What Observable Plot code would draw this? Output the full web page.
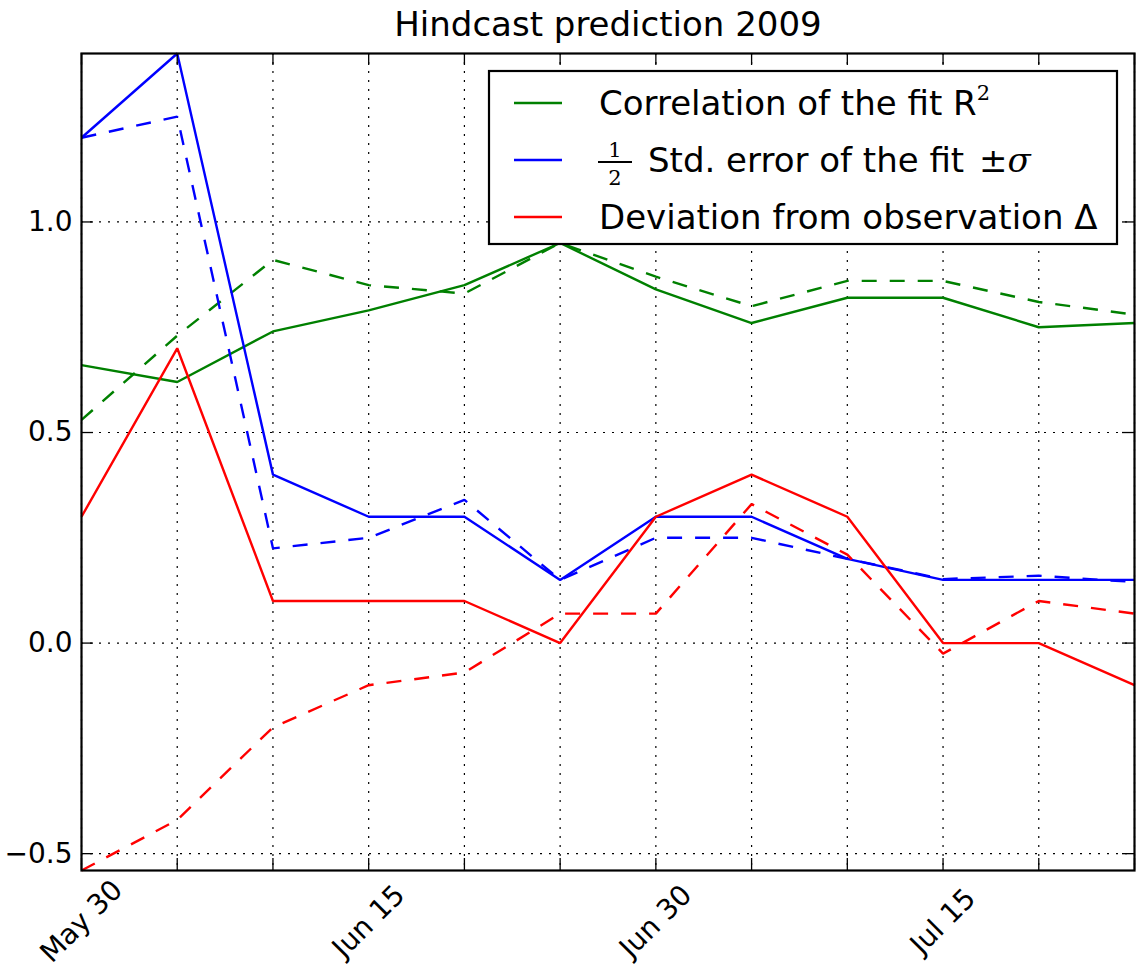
<!DOCTYPE html>
<html>
<head>
<meta charset="utf-8">
<script src="https://cdn.jsdelivr.net/npm/d3@7"></script>
<script src="https://cdn.jsdelivr.net/npm/@observablehq/plot@0.6"></script>
<style>
  html, body { margin: 0; padding: 0; background: #fff; }
  #chart svg { display: block; }
</style>
</head>
<body>
<div id="chart"></div>
<script>
// ---- data ----
const steps = [0, 1, 2, 3, 4, 5, 6, 7, 8, 9, 10, 11];
const tickIdx = [0, 3, 6, 9];
const tickLabels = ["May 30", "Jun 15", "Jun 30", "Jul 15"];
const yTicks = [-0.5, 0.0, 0.5, 1.0];
const yTickLabels = ["\u22120.5", "0.0", "0.5", "1.0"];

const r2Fit      = [0.66, 0.62, 0.74, 0.79, 0.85, 0.95, 0.84, 0.76, 0.82, 0.82, 0.75, 0.76];
const r2Hind     = [0.53, 0.73, 0.91, 0.85, 0.83, 0.95, 0.87, 0.80, 0.86, 0.86, 0.81, 0.78];
const sigmaFit   = [1.20, 1.40, 0.40, 0.30, 0.30, 0.15, 0.30, 0.30, 0.20, 0.15, 0.15, 0.15];
const sigmaHind  = [1.20, 1.25, 0.225, 0.25, 0.34, 0.15, 0.25, 0.25, 0.20, 0.152, 0.16, 0.145];
const deltaFit   = [0.30, 0.70, 0.10, 0.10, 0.10, 0.00, 0.30, 0.40, 0.30, 0.00, 0.00, -0.10];
const deltaHind  = [-0.54, -0.42, -0.20, -0.10, -0.07, 0.07, 0.07, 0.33, 0.21, -0.025, 0.10, 0.07];

const GREEN = "#008000", BLUE = "#0000ff", RED = "#ff0000";
const FONT = "DejaVu Sans";

const W = 1136, H = 969;
const mL = 81, mR = 2, mT = 53, mB = 99;
const fw = W - mL - mR, fh = H - mT - mB;
const tickLen = 12;
const LW = 2.4;

function series(vals, color, dashed) {
  return Plot.line(vals, {
    x: (d, i) => steps[i], y: d => d,
    stroke: color, strokeWidth: LW,
    strokeDasharray: dashed ? "15,13" : null,
    strokeLinejoin: "miter", strokeLinecap: "butt"
  });
}

const svg = Plot.plot({
  width: W, height: H,
  marginLeft: mL, marginRight: mR, marginTop: mT, marginBottom: mB,
  style: { fontFamily: FONT, background: "#fff", overflow: "visible" },
  x: { domain: [0, 11], axis: null },
  y: { domain: [-0.54, 1.4], axis: null },
  marks: [
    Plot.ruleX(steps, { x: d => d, stroke: "black", strokeWidth: 1.2, strokeDasharray: "2,7" }),
    Plot.ruleY(yTicks, { y: d => d, stroke: "black", strokeWidth: 1.2, strokeDasharray: "2,7" }),
    series(r2Fit, GREEN, false),
    series(r2Hind, GREEN, true),
    series(sigmaFit, BLUE, false),
    series(sigmaHind, BLUE, true),
    series(deltaFit, RED, false),
    series(deltaHind, RED, true),
    Plot.frame({ stroke: "black", strokeWidth: 2.2 }),
    // inward ticks, all four sides
    Plot.ruleX(steps, { x: d => d, stroke: "black", strokeWidth: 1.3, insetTop: fh - tickLen }),
    Plot.ruleX(steps, { x: d => d, stroke: "black", strokeWidth: 1.3, insetBottom: fh - tickLen }),
    Plot.ruleY(yTicks, { y: d => d, stroke: "black", strokeWidth: 1.3, insetRight: fw - tickLen }),
    Plot.ruleY(yTicks, { y: d => d, stroke: "black", strokeWidth: 1.3, insetLeft: fw - tickLen }),
    // y tick labels
    Plot.text(yTicks, {
      y: d => d, frameAnchor: "left", dx: -9, textAnchor: "end",
      text: (d, i) => yTickLabels[i], fontSize: 28, fill: "black", lineAnchor: "middle"
    }),
    // x tick labels (rotated)
    Plot.text(tickIdx, {
      x: d => d, frameAnchor: "bottom", dy: 51, rotate: -45, textAnchor: "middle",
      text: (d, i) => tickLabels[i], fontSize: 28, fill: "black", lineAnchor: "middle"
    }),
    // title
    Plot.text(["Hindcast prediction 2009"], {
      frameAnchor: "top", dy: -28, text: d => d, fontSize: 34, fill: "black", lineAnchor: "middle"
    })
  ]
});

// ---- legend (decoration) ----
const g = d3.select(svg).append("g")
  .attr("font-family", FONT).attr("fill", "black").attr("text-anchor", "start");
g.append("rect").attr("x", 489).attr("y", 71).attr("width", 628).attr("height", 173)
  .attr("fill", "white").attr("stroke", "black").attr("stroke-width", 2.2);
const rowsY = [103, 160, 217];
const rowColors = [GREEN, BLUE, RED];
rowsY.forEach((y, i) => {
  g.append("line").attr("x1", 514).attr("x2", 562).attr("y1", y).attr("y2", y)
    .attr("stroke", rowColors[i]).attr("stroke-width", LW);
});
const fs = 34;
// row 1
const t1 = g.append("text").attr("x", 599).attr("y", rowsY[0] + 12).attr("font-size", fs);
t1.append("tspan").text("Correlation of the fit R");
t1.append("tspan").attr("font-family", "DejaVu Serif").attr("font-size", 21).attr("dy", -15).text("2");
// row 2 (fraction)
g.append("text").attr("x", 615).attr("y", 157).attr("font-size", 21).attr("text-anchor", "middle")
  .attr("font-family", "DejaVu Serif").text("1");
g.append("line").attr("x1", 598).attr("x2", 632).attr("y1", 162).attr("y2", 162)
  .attr("stroke", "black").attr("stroke-width", 1.8);
g.append("text").attr("x", 615).attr("y", 185).attr("font-size", 21).attr("text-anchor", "middle")
  .attr("font-family", "DejaVu Serif").text("2");
const t2 = g.append("text").attr("x", 648).attr("y", rowsY[1] + 12).attr("font-size", fs);
t2.append("tspan").text("Std. error of the fit ");
t2.append("tspan").attr("font-family", "DejaVu Serif").attr("dx", 4).text("\u00b1");
t2.append("tspan").attr("font-family", "DejaVu Serif").attr("font-style", "italic").text("\u03c3");
// row 3
g.append("text").attr("x", 599).attr("y", rowsY[2] + 12).attr("font-size", fs)
  .text("Deviation from observation \u0394");

document.getElementById("chart").appendChild(svg);
</script>
</body>
</html>
